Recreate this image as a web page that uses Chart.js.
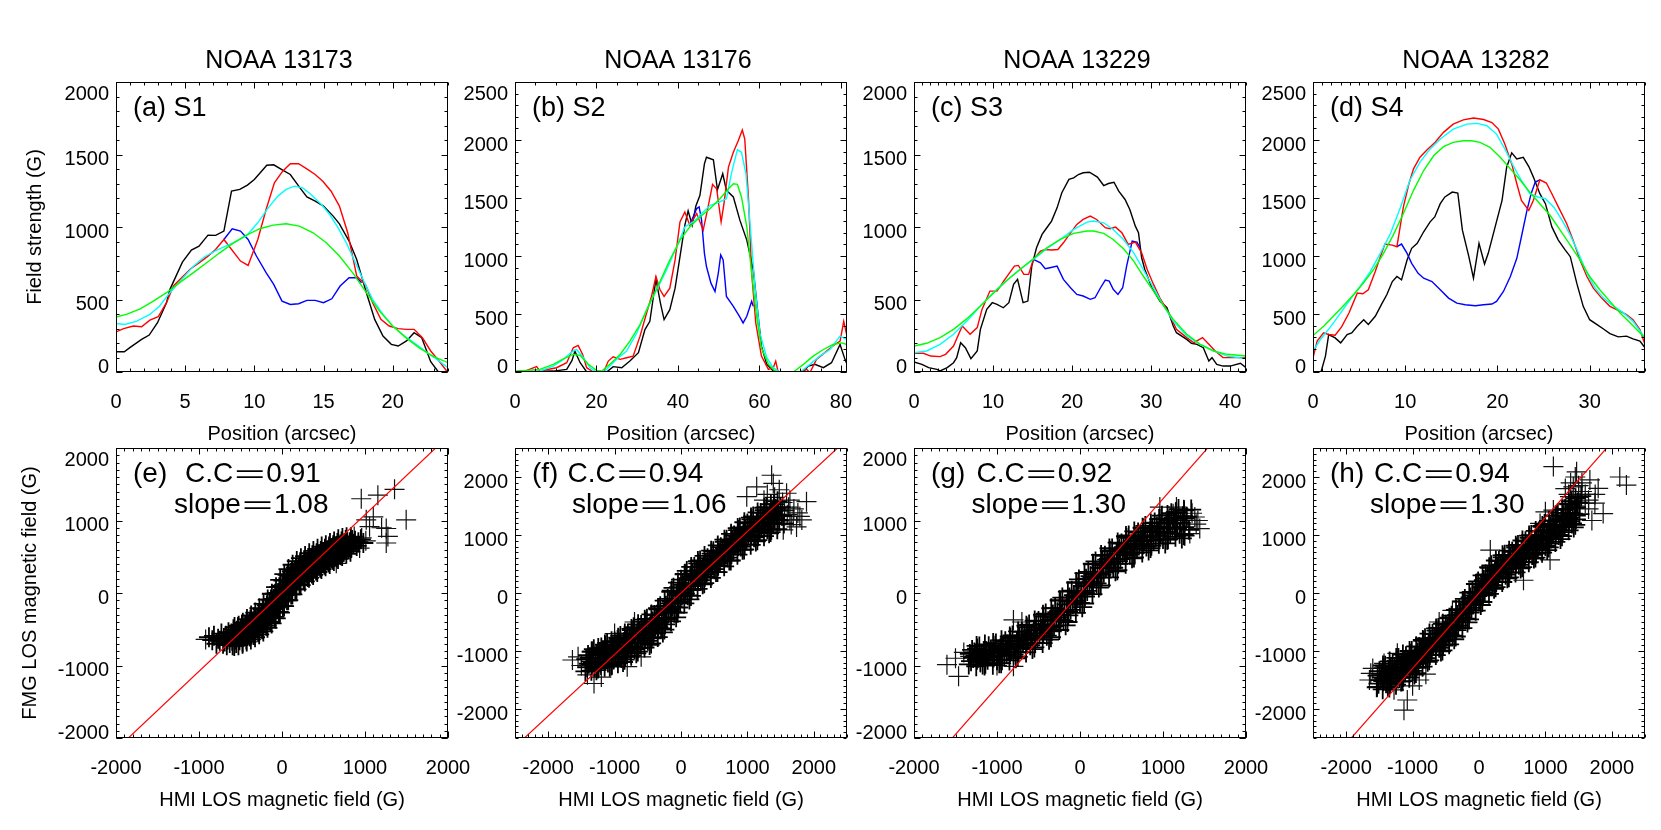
<!DOCTYPE html>
<html><head><meta charset="utf-8">
<script src="https://cdn.jsdelivr.net/npm/chart.js"></script>
<style>
html,body{margin:0;padding:0;background:#fff;}
body{width:1661px;height:830px;overflow:hidden;position:relative;}
canvas{position:absolute;left:0;top:0;}
</style></head><body>
<script>
// ---------- tick label lists ----------
const xTicksA = [0,5,10,15,20];
const xTicksB = [0,20,40,60,80];
const xTicksC = [0,10,20,30,40];
const xTicksD = [0,10,20,30];
const yTicks2000 = [0,500,1000,1500,2000];
const yTicks2500 = [0,500,1000,1500,2000,2500];
const sTicks2000 = [-2000,-1000,0,1000,2000];
const sTicks2500 = [-2000,-1000,0,1000,2000];

// ---------- field-strength profiles (x arcsec, y G pairs) ----------
const blackA = [0,140, 0.6,140, 1,168, 1.85,225, 2.4,255, 3,340, 3.65,478, 3.9,570, 4.8,758, 5.45,841, 6,868, 6.65,944, 7.2,942, 7.8,972, 8.35,1247, 8.95,1259, 9.5,1289, 10,1328, 10.9,1426, 11.4,1429, 12.05,1392, 12.6,1362, 13.3,1270, 13.8,1208, 14.4,1178, 15,1144, 15.7,1075, 16.15,1022, 16.85,903, 17.4,776, 18.1,547, 18.7,363, 19.3,248, 19.9,191, 20.4,179, 21,214, 21.55,271, 22.1,237, 22.75,71, 23.2,14, 23.6,-40];
const redA = [0,276, 0.55,299, 1.25,317, 1.85,312, 2.45,358, 3.05,381, 3.65,478, 4.15,593, 5.4,712, 6,753, 6.65,799, 7.2,845, 7.8,914, 9,765, 9.55,735, 10.25,914, 10.85,1121, 11.45,1305, 12.05,1385, 12.6,1436, 13.2,1436, 13.85,1397, 14.4,1362, 14.95,1316, 15.55,1247, 16.15,1144, 16.75,960, 17.4,662, 18.05,600, 18.55,478, 19.15,363, 19.75,317, 20.4,299, 21,294, 21.55,294, 22.15,237, 22.75,145, 23.35,76, 24,-5];
const blueA = [7.8,914, 8.4,988, 9,972, 9.55,914, 10.15,800, 10.85,685, 11.4,604, 12,489, 12.6,466, 13.2,471, 13.8,494, 14.4,494, 15,478, 15.6,505, 16.2,593, 16.85,650, 17.4,650, 17.75,616];
const cyanA = [0,335, 0.65,328, 1.5,351, 2.45,397, 3.15,455, 3.9,547, 4.75,639, 5.6,730, 6.4,795, 7.4,845, 8.45,891, 9.4,937, 10.25,1029, 11,1132, 11.7,1213, 12.3,1259, 12.9,1282, 13.5,1270, 14.1,1224, 14.85,1155, 15.45,1086, 16.05,995, 16.65,891, 17.25,765, 17.85,639, 18.55,501, 19.3,397, 20,317, 20.85,248, 21.7,191, 22.5,133, 23.25,83, 24,30];
const greenA = [0,379, 0.75,397, 1.75,436, 2.7,489, 3.65,547, 4.6,616, 5.6,685, 6.55,753, 7.5,822, 8.45,887, 9.4,942, 10.4,988, 11.35,1013, 12.3,1022, 13.25,1006, 14.25,960, 15.2,891, 16.15,800, 17.1,685, 18.1,547, 19.05,420, 20,317, 20.95,237, 21.9,168, 22.9,110, 24,64];

const blackB = [0,0, 9.4,8, 12.7,23, 14,100, 14.7,180, 16,80, 17.6,0, 22.5,0, 24.1,46, 26.2,37, 28.2,94, 30.3,166, 31.9,366, 33.1,437, 34.6,800, 35.7,594, 36.6,451, 38,537, 39.3,723, 40.5,994, 41.7,1266, 42.5,1389, 43.5,1266, 44.4,1431, 45.4,1523, 46.5,1794, 47,1851, 48.7,1829, 49.7,1571, 51,1709, 51.9,1566, 53.6,1509, 55.2,1309, 56.9,1137, 58.5,880, 59.7,480, 60.5,223, 61.8,66, 63.4,9, 64.6,0, 66.7,-30, 70,-30, 72,51, 73.6,66, 75.7,37, 77.7,80, 79.8,237, 81,109, 81.5,66];
const redB = [0,3, 2.9,14, 5.3,46, 6.1,9, 10.2,37, 12.7,80, 14.3,209, 15.5,229, 16.6,151, 17.6,37, 19.2,0, 21.7,-6, 22.9,94, 24.1,131, 25.8,109, 27.4,123, 29,137, 30.7,309, 32.3,509, 33.5,651, 34.6,823, 35.6,709, 36.6,651, 38,723, 39.3,966, 40.5,1294, 41.7,1380, 42.9,1266, 44.6,1366, 46.2,1223, 47.4,1423, 48.5,1617, 49.5,1580, 50.6,1294, 51.3,1451, 52.4,1766, 53.6,1894, 54.8,1994, 55.8,2086, 56.4,2009, 57.3,1509, 58.1,851, 59.1,423, 60.5,137, 62.2,23, 63.4,37, 64,94, 64.6,0, 66,-30, 70,0, 71.6,23, 72.4,-6, 74,109, 76.5,180, 78.5,237, 79.8,266, 80.7,437, 81.5,309];
const blueB = [42.9,1266, 44.6,1409, 45.2,1423, 45.8,1309, 46.5,1023, 47,909, 48.1,766, 49.1,694, 49.9,851, 50.5,1009, 51.1,966, 51.9,651, 53.6,566, 55.1,480, 56,423, 56.9,480, 58.1,609, 58.5,566];
const cyanB = [0,0, 6.1,9, 9.4,51, 11.9,109, 13.9,171, 15.1,194, 16.8,123, 18.4,37, 20,0, 21.7,-6, 23.3,51, 24.9,109, 27.4,180, 29.9,337, 32.3,537, 34.8,709, 37.2,880, 39.7,1080, 41.7,1251, 43.8,1294, 45.8,1366, 47.9,1437, 49.9,1460, 51.9,1494, 53.2,1723, 54.6,1917, 55.6,1894, 56.7,1709, 57.7,1280, 58.9,737, 60.1,337, 61.8,123, 63.4,37, 65,0, 67,-20, 70,0, 72.4,66, 74.8,137, 77.3,194, 79.8,309, 81.5,280];
const greenB = [0,6, 6.1,23, 9.4,66, 11.9,114, 14.3,151, 16,143, 18,66, 20,14, 21.3,9, 23.3,66, 25.8,151, 28.2,266, 30.7,409, 33.1,594, 35.6,780, 38,966, 40.5,1137, 42.9,1251, 45.4,1337, 47.9,1409, 50.3,1494, 52.4,1580, 53.6,1623, 54.6,1617, 55.6,1509, 56.9,1251, 58.1,851, 59.3,480, 60.5,209, 62.2,66, 63.8,9, 65.4,-6, 68.3,0, 70.8,66, 73.2,137, 75.7,194, 78.1,237, 80.2,251, 81.5,237];

const blackC = [0,69, 1,53, 1.85,30, 2.9,18, 3.3,7, 4.2,30, 5,64, 5.4,99, 5.9,202, 6.5,168, 7.2,92, 8,145, 8.4,294, 9.2,432, 9.9,478, 10.5,466, 11.3,443, 12,478, 12.6,604, 13.1,639, 13.8,478, 14.4,489, 14.9,730, 15.5,857, 16.2,949, 16.8,995, 17.4,1041, 18.1,1132, 18.7,1236, 19.6,1328, 20.2,1339, 20.8,1362, 21.4,1374, 22.2,1378, 23.2,1344, 24,1286, 24.6,1300, 25.3,1309, 25.9,1247, 26.7,1190, 27.3,1121, 28,1006, 28.4,960, 28.8,788, 29.2,707, 30.1,581, 31.1,489, 32,443, 32.8,317, 33.2,271, 34.5,225, 35.1,198, 35.8,191, 36.6,168, 37.3,76, 37.7,99, 38.3,53, 39.1,41, 40,41, 41.3,60, 42,30];
const redC = [0,129, 1.2,129, 2.1,110, 3.3,106, 4,122, 5,179, 6.1,317, 7.1,260, 8,306, 8.6,432, 9.6,558, 10.5,558, 11.5,639, 12.7,730, 13.2,735, 13.9,673, 14.5,673, 15.1,776, 16,834, 16.6,845, 17.4,841, 18.2,845, 18.9,891, 19.8,960, 20.6,1018, 21.4,1052, 22.3,1075, 23.1,1052, 24.2,995, 24.8,988, 25.5,999, 26.3,960, 27.1,880, 28,896, 28.8,822, 29.5,707, 30.3,604, 31.1,512, 32.2,409, 33.2,294, 34.5,237, 35.4,202, 36.5,237, 37.3,191, 38.1,145, 39.1,99, 40.4,99, 42,99];
const blueC = [15.1,776, 16,753, 16.6,712, 17.2,719, 18.1,730, 18.9,639, 19.8,581, 20.6,535, 21.4,524, 22.3,501, 22.9,512, 23.6,581, 24.2,634, 24.7,627, 25.2,570, 25.8,535, 26.4,581, 26.9,730, 27.6,903, 28.2,896, 28.6,857];
const cyanC = [0,133, 1.6,145, 3.3,191, 5,260, 6.7,351, 8.4,455, 10.1,551, 11.8,634, 13.4,707, 15.1,776, 16.8,850, 18.5,914, 20.2,983, 21.9,1034, 22.7,1041, 24,1029, 25.2,983, 26.5,914, 27.8,822, 29,707, 30.3,581, 31.6,455, 32.8,351, 34.5,248, 36.2,191, 37.9,145, 39.6,110, 42,92];
const greenC = [0,179, 1.6,198, 3.3,237, 5,294, 6.7,368, 8.4,455, 10.1,547, 11.8,634, 13.4,707, 15.1,781, 16.8,857, 18.5,914, 20.2,956, 21.9,972, 22.7,972, 24,956, 25.2,914, 26.5,850, 27.8,765, 29,662, 30.3,558, 31.6,455, 32.8,363, 34.5,260, 36.2,191, 37.9,145, 39.6,122, 42,110];

const blackD = [0.6,-40, 0.87,0, 1.35,137, 1.7,323, 2.4,294, 3,251, 3.7,323, 4.2,337, 4.8,394, 5.5,451, 6,409, 6.75,480, 7.5,594, 8,666, 8.6,780, 9.1,823, 9.6,794, 10.2,966, 10.7,1066, 11.3,1109, 12,1209, 12.7,1294, 13.2,1337, 13.8,1451, 14.3,1509, 15.1,1551, 15.7,1543, 16.2,1223, 16.9,994, 17.4,809, 18,1109, 18.6,931, 19,1023, 19.75,1251, 20.5,1480, 21,1766, 21.55,1889, 22.1,1837, 22.8,1851, 23.4,1771, 23.9,1680, 24.6,1537, 25.2,1451, 25.9,1251, 26.6,1137, 27.3,1057, 27.9,994, 28.6,766, 29.3,566, 30,451, 30.8,409, 31.5,371, 32.2,331, 33.1,303, 34,309, 34.7,286, 35.45,266, 36,209];
const redD = [0,123, 0.45,266, 1.15,337, 1.7,323, 2.4,317, 3.1,389, 3.9,509, 4.8,680, 5.4,674, 6,709, 6.75,866, 7.3,994, 7.8,1103, 8.6,1094, 9.1,1080, 9.8,1423, 10.4,1623, 10.9,1751, 11.6,1851, 12.35,1914, 13.25,1980, 14.15,2066, 15.2,2137, 16.3,2174, 17.4,2189, 18.5,2177, 19.4,2151, 20.1,2094, 20.8,1966, 21.55,1794, 22.1,1623, 22.6,1480, 23.4,1394, 23.9,1480, 24.6,1657, 25.3,1629, 25.9,1537, 26.6,1423, 27.5,1280, 28.2,1137, 28.95,966, 29.7,823, 30.4,723, 31.3,637, 32.2,566, 33.1,531, 34,494, 34.7,451, 35.45,366, 36,237];
const blueD = [9.1,1080, 9.6,1103, 10.2,1023, 10.7,937, 11.4,851, 12,809, 12.9,780, 13.8,709, 14.7,637, 15.6,594, 16.5,580, 17.6,571, 18.5,580, 19.4,586, 19.9,609, 20.65,694, 21.4,823, 22.1,980, 22.6,1166, 23.2,1394, 23.65,1537, 24.1,1637, 24.6,1657];
const cyanD = [0,180, 0.8,280, 1.9,389, 3,509, 4,623, 5.1,737, 6.2,866, 7.3,1023, 8.4,1194, 9.5,1423, 10.5,1651, 11.6,1809, 12.7,1923, 13.8,2009, 15.2,2094, 16.7,2137, 17.8,2143, 18.85,2123, 19.9,2051, 20.8,1923, 21.7,1780, 22.6,1651, 23.5,1537, 24.4,1509, 25.2,1494, 26.1,1423, 27,1309, 27.9,1180, 28.8,1023, 29.7,851, 30.6,723, 31.5,637, 32.6,566, 33.6,514, 34.7,437, 36,294];
const greenD = [0,314, 1.15,394, 2.2,480, 3.3,571, 4.4,666, 5.5,771, 6.6,886, 7.65,1023, 8.7,1180, 9.8,1366, 10.9,1566, 12,1737, 13.1,1866, 14.15,1943, 15.2,1980, 16.3,1994, 17.2,1994, 18.1,1980, 19.2,1937, 20.3,1851, 21.4,1751, 22.5,1651, 23.5,1551, 24.6,1451, 25.7,1351, 26.8,1223, 27.9,1094, 28.95,966, 30,823, 31.1,709, 32.2,609, 33.3,509, 34.4,423, 36,294];

// ---------- HMI (x) vs FMG (y) LOS field pairs, G ----------
// dense core of each cloud
const coreE = [-880,-610, -840,-650, -820,-590, -790,-700, -770,-630, -750,-660, -730,-560, -710,-700, -700,-620,
-690,-670, -675,-590, -665,-720, -655,-640, -645,-540,
-630,-690, -618,-610, -610,-560, -600,-660, -595,-720, -585,-500,
-570,-640, -560,-580, -552,-690, -545,-520, -538,-610, -530,-470,
-512,-650, -505,-560, -497,-500, -490,-610, -483,-440, -475,-680,
-460,-520, -452,-600, -445,-460, -438,-560, -430,-640, -425,-410,
-410,-480, -402,-540, -395,-420, -388,-600, -380,-370, -375,-500,
-360,-450, -352,-520, -345,-390, -338,-580, -330,-330, -325,-480,
-310,-400, -302,-470, -295,-340, -288,-540, -280,-280, -275,-430,
-262,-350, -255,-420, -248,-290, -240,-500, -233,-230, -226,-380,
-212,-300, -205,-380, -198,-230, -190,-450, -183,-170, -176,-330,
-162,-240, -155,-320, -148,-160, -140,-400, -133,-90, -126,-270,
-112,-170, -105,-260, -98,-80, -90,-330, -83,-10, -76,-200,
-62,-90, -55,-180, -48,0, -40,-260, -33,80, -26,-120,
-12,-10, -5,-100, 2,100, 10,-180, 17,170, 24,30,
38,70, 45,-30, 52,180, 60,-100, 67,250, 74,110,
88,150, 95,50, 102,240, 110,-20, 117,300, 124,190,
138,220, 145,120, 152,300, 160,50, 167,350, 174,250,
188,280, 195,180, 202,350, 210,120, 217,400, 224,300,
238,320, 245,230, 252,390, 260,180, 267,440, 274,340,
288,360, 295,270, 302,430, 310,220, 317,480, 324,380,
338,400, 345,310, 352,470, 360,270, 367,520, 374,420,
388,440, 395,350, 402,500, 410,310, 417,550, 424,460,
438,470, 445,390, 452,530, 460,350, 467,580, 474,490,
488,500, 495,420, 502,560, 510,390, 517,610, 524,520,
538,530, 545,450, 552,590, 560,420, 567,640, 574,550,
588,560, 595,480, 602,620, 610,460, 617,660, 624,580,
638,590, 645,510, 652,650, 660,490, 667,690, 674,610,
688,620, 695,540, 702,670, 710,520, 717,710, 724,640,
738,640, 745,570, 752,690, 760,600, 767,730, 774,660,
790,660, 805,600, 815,700, 830,640, 845,730,
860,680, 880,720, 900,650, 920,700, 950,740, 980,690,
-575,-730, -572,-470, -568,-640, -565,-560, -525,-720, -522,-450, -518,-620, -515,-540,
-475,-700, -472,-410, -468,-600, -465,-500, -425,-670, -422,-360, -418,-560, -415,-460,
-375,-640, -372,-310, -368,-520, -365,-420, -325,-610, -322,-270, -318,-490, -315,-380,
-275,-570, -272,-210, -268,-440, -265,-330, -225,-530, -222,-150, -218,-390, -215,-280,
-175,-480, -172,-90, -168,-330, -165,-220, -125,-420, -122,-10, -118,-260, -115,-150,
-75,-350, -72,80, -68,-190, -65,-70, -25,-270, -22,180, -18,-100, -15,20,
25,-180, 28,260, 32,-10, 35,100, 75,-100, 78,330, 82,60, 85,170,
125,-20, 128,390, 132,130, 135,240, 175,50, 178,440, 182,190, 185,300,
225,110, 228,480, 232,240, 235,350, 275,160, 278,510, 282,290, 285,390,
325,210, 328,550, 332,330, 335,430, 375,250, 378,580, 382,370, 385,470,
425,290, 428,610, 432,400, 435,500, 475,330, 478,640, 482,440, 485,530,
525,370, 528,660, 532,470, 535,560, 575,400, 578,690, 582,500, 585,590,
625,440, 628,710, 632,530, 635,620, 675,470, 678,740, 682,560, 685,650,
725,510, 728,760, 732,590, 735,670, 775,540, 778,770, 782,610, 785,700,
825,570, 830,770, 835,620, 840,700];
// isolated crosses
const outE = [955,1300, 1155,1350, 1356,1430, 1015,1010, 1496,1010, 1055,915, 1256,890, 1276,780, 1256,690, 814,690, 935,620, 654,410, -389,-550, 1200,900, 1100,1050, 870,780, 960,760, 1010,720, -920,-640];

const coreF = [-1440,-1350, -1427,-1140, -1413,-1280, -1400,-1070, -1387,-1220, -1373,-1120, -1360,-1180,
-1340,-1010, -1327,-1200, -1313,-970, -1300,-1280, -1287,-1140, -1273,-1330, -1260,-1060,
-1240,-1280, -1227,-1030, -1213,-1200, -1200,-940, -1187,-1130, -1173,-1000, -1160,-1070,
-1140,-910, -1127,-1110, -1113,-860, -1100,-1200, -1087,-1050, -1073,-1270, -1060,-960,
-1040,-1235, -1027,-945, -1013,-1145, -1000,-835, -987,-1055, -973,-905, -960,-995,
-940,-790, -927,-1020, -913,-740, -900,-1120, -887,-950, -873,-1190, -860,-850,
-840,-1100, -827,-810, -813,-1010, -800,-700, -787,-920, -773,-770, -760,-860,
-740,-640, -727,-870, -713,-590, -700,-970, -687,-800, -673,-1040, -660,-700,
-640,-950, -627,-660, -613,-860, -600,-550, -587,-770, -573,-620, -560,-710,
-540,-495, -527,-725, -513,-445, -500,-825, -487,-655, -473,-895, -460,-555,
-440,-780, -427,-490, -413,-690, -400,-380, -387,-600, -373,-450, -360,-540,
-340,-280, -327,-510, -313,-230, -300,-610, -287,-440, -273,-680, -260,-340,
-240,-540, -227,-220, -213,-440, -200,-100, -187,-340, -173,-180, -160,-280,
-140,40, -127,-230, -113,90, -100,-340, -87,-150, -73,-420, -60,-30,
-40,-250, -27,100, -13,-140, 0,230, 13,-40, 27,140, 40,40,
60,330, 73,70, 87,380, 100,-40, 113,150, 127,-110, 140,260,
160,50, 173,340, 187,140, 200,450, 213,230, 227,380, 240,290,
260,510, 273,310, 287,560, 300,220, 313,370, 327,150, 340,460,
360,280, 373,510, 387,350, 400,600, 413,430, 427,550, 440,470,
460,680, 473,490, 487,720, 500,410, 513,550, 527,360, 540,630,
560,470, 573,700, 587,540, 600,790, 613,620, 627,740, 640,660,
660,880, 673,690, 687,920, 700,610, 713,750, 727,560, 740,830,
760,670, 773,900, 787,740, 800,990, 813,820, 827,940, 840,860,
860,1085, 873,890, 887,1130, 900,800, 913,950, 927,745, 940,1035,
960,840, 973,1100, 987,920, 1000,1200, 1013,1000, 1027,1140, 1040,1060,
1060,1270, 1073,1050, 1087,1320, 1100,960, 1113,1120, 1127,890, 1140,1215,
1160,980, 1173,1270, 1187,1070, 1200,1380, 1213,1160, 1227,1310, 1240,1220,
1260,1430, 1273,1200, 1287,1480, 1300,1100, 1313,1270, 1327,1030, 1340,1370,
1360,1090, 1373,1410, 1387,1190, 1400,1530, 1413,1290, 1427,1450, 1440,1350,
1480,1250, 1500,1480, 1520,1330, 1550,1200,
-1350,-1340, -1346,-1010, -1342,-1230, -1338,-1120, -1250,-1300, -1246,-950, -1242,-1190, -1238,-1060,
-1150,-1270, -1146,-890, -1142,-1150, -1138,-1010, -1050,-1250, -1046,-830, -1042,-1110, -1038,-970,
-950,-1210, -946,-770, -942,-1060, -938,-920, -850,-1150, -846,-700, -842,-1000, -838,-850,
-750,-1080, -746,-620, -742,-930, -738,-770, -650,-1010, -646,-540, -642,-850, -638,-700,
-550,-940, -546,-460, -542,-780, -538,-620, -450,-870, -446,-370, -442,-700, -438,-540,
-350,-760, -346,-260, -342,-590, -338,-430, -250,-630, -246,-130, -242,-460, -238,-300,
-150,-490, -146,20, -142,-320, -138,-150, -50,-340, -46,180, -42,-160, -38,0,
50,-180, 54,320, 58,-10, 62,150, 150,-50, 154,450, 158,120, 162,280,
250,70, 254,550, 258,230, 262,390, 350,170, 354,640, 358,320, 362,490,
450,260, 454,730, 458,410, 462,580, 550,360, 554,820, 558,510, 562,670,
650,460, 654,920, 658,610, 662,770, 750,560, 754,1020, 758,710, 762,870,
850,660, 854,1120, 858,810, 862,970, 950,750, 954,1220, 958,900, 962,1070,
1050,830, 1054,1300, 1058,990, 1062,1150, 1150,910, 1154,1390, 1158,1070, 1162,1230,
1250,980, 1254,1470, 1258,1140, 1262,1310, 1350,1050, 1354,1530, 1358,1210, 1362,1370,
1450,1100, 1454,1580, 1458,1260, 1462,1420];
const outF = [1640,1260, 1790,1320, 1890,1575, 1640,1600, 1365,2030, 1390,1890, 1140,1830, 990,1660, 1590,1720, 1690,1320, 1740,1140, 1440,1430, 1540,1090, 1700,1450, 1600,1350, 1820,1260, 1250,1600, 1480,1780, 1300,1700,
1560,1420, 1660,1180, 1760,1380, 1620,1480, 1530,1560, 1410,1650,
-1635,-1155, -1410,-1410, -1310,-1560, -1210,-1240, -1110,-1040, -810,-1270, -760,-1040, -960,-810, -1500,-1250, -1550,-1100, -1200,-1450, -600,-1100, -700,-500, -1000,-700];

const coreG = [-1340,-985, -1327,-840, -1313,-940, -1300,-785, -1287,-895, -1273,-820, -1260,-865,
-1240,-766, -1227,-893, -1213,-739, -1200,-948, -1187,-854, -1173,-987, -1160,-799,
-1140,-976, -1127,-802, -1113,-922, -1100,-736, -1087,-868, -1073,-778, -1060,-832,
-1040,-728, -1027,-866, -1013,-698, -1000,-926, -987,-824, -973,-968, -960,-764,
-940,-927, -927,-738, -913,-868, -900,-666, -887,-810, -873,-712, -860,-770,
-840,-621, -827,-782, -813,-586, -800,-852, -787,-733, -773,-901, -760,-663,
-740,-817, -727,-614, -713,-754, -700,-537, -687,-691, -673,-586, -660,-649,
-640,-472, -627,-645, -613,-435, -600,-720, -587,-592, -573,-773, -560,-517,
-540,-688, -527,-470, -513,-620, -500,-387, -487,-553, -473,-440, -460,-507,
-440,-324, -427,-508, -413,-284, -400,-588, -387,-452, -373,-644, -360,-372,
-340,-528, -327,-296, -313,-456, -300,-208, -287,-384, -273,-264, -260,-336,
-240,-105, -227,-301, -213,-63, -200,-386, -187,-241, -173,-446, -160,-156,
-140,-308, -127,-62, -113,-232, -100,32, -87,-156, -73,-28, -60,-104,
-40,145, -27,-51, -13,187, 0,-136, 13,9, 27,-196, 40,94,
60,-48, 73,198, 87,28, 100,292, 113,104, 127,232, 140,156,
160,396, 173,212, 187,436, 200,132, 213,268, 227,76, 240,348,
260,212, 273,430, 287,280, 300,513, 313,347, 327,460, 340,393,
360,579, 373,418, 387,614, 400,348, 413,467, 427,299, 440,537,
460,403, 473,606, 487,466, 500,683, 513,529, 527,634, 540,571,
560,759, 573,598, 587,794, 600,528, 613,647, 627,479, 640,717,
660,553, 673,756, 687,616, 700,833, 713,679, 727,784, 740,721,
760,888, 773,715, 787,925, 800,640, 813,768, 827,587, 840,843,
860,652, 873,884, 887,724, 900,972, 913,796, 927,916, 940,844,
960,1025, 973,829, 987,1067, 1000,744, 1013,889, 1027,684, 1040,974,
1060,741, 1073,1002, 1087,822, 1100,1101, 1113,903, 1127,1038, 1140,957,
1160,1113, 1173,906, 1187,1158, 1200,816, 1213,969, 1227,753, 1240,1059,
1260,791, 1287,1052, 1313,872, 1340,1151,
-1250,-1010, -1246,-730, -1242,-920, -1238,-820, -1150,-1000, -1146,-710, -1142,-900, -1138,-800,
-1050,-990, -1046,-690, -1042,-890, -1038,-790, -950,-970, -946,-650, -942,-860, -938,-760,
-850,-930, -846,-600, -842,-820, -838,-710, -750,-880, -746,-530, -742,-760, -738,-650,
-650,-820, -646,-450, -642,-700, -638,-570, -550,-750, -546,-380, -542,-630, -538,-500,
-450,-690, -446,-300, -442,-560, -438,-430, -350,-610, -346,-210, -342,-480, -338,-340,
-250,-510, -246,-100, -242,-370, -238,-240, -150,-400, -146,20, -142,-260, -138,-120,
-50,-275, -46,145, -42,-130, -38,0, 50,-145, 54,275, 58,0, 62,130,
150,-15, 154,405, 158,130, 162,260, 250,105, 254,525, 258,250, 262,380,
350,215, 354,615, 358,350, 362,480, 450,315, 454,695, 458,440, 462,570,
550,405, 554,785, 558,530, 562,660, 650,490, 654,850, 658,610, 662,730,
750,560, 754,900, 758,670, 762,790, 850,620, 854,960, 858,730, 862,850,
950,680, 954,1020, 958,790, 962,910, 1050,735, 1054,1075, 1058,845, 1062,965,
1150,775, 1154,1115, 1158,885, 1162,1005, 1250,800, 1254,1140, 1258,910, 1262,1030];
const outG = [962,1185, 1122,1094, 1283,1002, 1383,1048, 1443,888, 1323,819, 1082,956, 842,865, 1162,1185, 1400,950, 1350,1100, 1250,1150, 1420,1000,
-1603,-989, -1463,-1149, -1323,-874, -1122,-828, -962,-920, -802,-1011, -802,-371, -882,-828, -1500,-900, -1400,-820, -1200,-960, -1000,-1000, -700,-400];

const coreH = [-1540,-1627, -1527,-1424, -1513,-1564, -1500,-1347, -1487,-1501, -1473,-1396, -1460,-1459,
-1440,-1294, -1427,-1478, -1413,-1254, -1400,-1558, -1387,-1422, -1373,-1614, -1360,-1342,
-1340,-1558, -1327,-1312, -1313,-1482, -1300,-1218, -1287,-1406, -1273,-1278, -1260,-1354,
-1240,-1167, -1227,-1374, -1213,-1122, -1200,-1464, -1187,-1311, -1173,-1527, -1160,-1221,
-1140,-1449, -1127,-1188, -1113,-1368, -1100,-1089, -1087,-1287, -1073,-1152, -1060,-1233,
-1040,-1047, -1027,-1254, -1013,-1002, -1000,-1344, -987,-1191, -973,-1407, -960,-1101,
-940,-1289, -927,-1028, -913,-1208, -900,-929, -887,-1127, -873,-992, -860,-1073,
-840,-827, -827,-1034, -813,-782, -800,-1124, -787,-971, -773,-1187, -760,-881,
-740,-1069, -727,-808, -713,-988, -700,-709, -687,-907, -673,-772, -660,-853,
-640,-647, -627,-854, -613,-602, -600,-944, -587,-791, -573,-1007, -560,-701,
-540,-909, -527,-648, -513,-828, -500,-549, -487,-747, -473,-612, -460,-693,
-440,-437, -427,-644, -413,-392, -400,-734, -387,-581, -373,-797, -360,-491,
-340,-639, -327,-378, -313,-558, -300,-279, -287,-477, -273,-342, -260,-423,
-240,-147, -227,-354, -213,-102, -200,-444, -187,-291, -173,-507, -160,-201,
-140,-339, -127,-78, -113,-258, -100,21, -87,-177, -73,-42, -60,-123,
-40,153, -27,-54, -13,198, 0,-144, 13,9, 27,-207, 40,99,
60,-39, 73,222, 87,42, 100,321, 113,123, 127,258, 140,177,
160,433, 173,226, 187,478, 200,136, 213,289, 227,73, 240,379,
260,191, 273,452, 287,272, 300,551, 313,353, 327,488, 340,407,
360,613, 373,406, 387,658, 400,316, 413,469, 427,253, 440,559,
460,351, 473,612, 487,432, 500,711, 513,513, 527,648, 540,567,
560,783, 573,576, 587,828, 600,486, 613,639, 627,423, 640,729,
660,531, 673,792, 687,612, 700,891, 713,693, 727,828, 740,747,
760,953, 773,746, 787,998, 800,656, 813,809, 827,593, 840,899,
860,680, 873,956, 887,766, 900,1061, 913,851, 927,994, 940,909,
960,1140, 973,910, 987,1190, 1000,810, 1013,980, 1027,740, 1040,1080,
1060,850, 1073,1140, 1087,940, 1100,1250, 1113,1030, 1127,1180, 1140,1090,
1160,1330, 1173,1100, 1187,1380, 1200,1000, 1213,1170, 1227,930, 1240,1270,
1260,1050, 1273,1340, 1287,1140, 1300,1450, 1313,1230, 1327,1380, 1340,1290,
1360,1530, 1373,1300, 1387,1580, 1400,1200, 1413,1370, 1427,1130, 1440,1470,
1460,1270, 1487,1560, 1513,1360, 1540,1670,
-1450,-1660, -1446,-1250, -1442,-1520, -1438,-1390, -1350,-1630, -1346,-1180, -1342,-1470, -1338,-1340,
-1250,-1580, -1246,-1120, -1242,-1420, -1238,-1280, -1150,-1520, -1146,-1060, -1142,-1360, -1138,-1220,
-1050,-1460, -1046,-1000, -1042,-1300, -1038,-1160, -950,-1380, -946,-920, -942,-1220, -938,-1080,
-850,-1270, -846,-810, -842,-1110, -838,-970, -750,-1160, -746,-700, -742,-1000, -738,-860,
-650,-1070, -646,-610, -642,-910, -638,-770, -550,-990, -546,-530, -542,-830, -538,-690,
-450,-885, -446,-425, -442,-725, -438,-585, -350,-750, -346,-290, -342,-590, -338,-450,
-250,-605, -246,-145, -242,-445, -238,-305, -150,-455, -146,5, -142,-295, -138,-155,
-50,-305, -46,155, -42,-145, -38,-5, 50,-155, 54,305, 58,5, 62,145,
150,-15, 154,445, 158,145, 162,285, 250,100, 254,560, 258,260, 262,400,
350,190, 354,650, 358,350, 362,490, 450,270, 454,730, 458,430, 462,570,
550,355, 554,815, 558,515, 562,655, 650,445, 654,905, 658,605, 662,745,
750,530, 754,990, 758,690, 762,830, 850,610, 854,1070, 858,770, 862,910,
950,695, 954,1155, 958,855, 962,995, 1050,785, 1054,1245, 1058,945, 1062,1085,
1150,880, 1154,1340, 1158,1040, 1162,1180, 1250,980, 1254,1440, 1258,1140, 1262,1280,
1350,1080, 1354,1540, 1358,1240, 1362,1380, 1450,1175, 1454,1635, 1458,1335, 1462,1475];
const outH = [1120,2180, 1470,2090, 1670,1950, 2120,2000, 2220,1860, 1795,1805, 1420,1830, 1370,1660, 1520,1550, 1870,1370, 1745,1550, 1220,1090, 1120,1430, 920,1200, 670,220, 1070,570, 170,740, 1600,1700, 1550,1900, 1650,1450, 1300,1800, 1000,1400, 1700,1250, 1450,2000,
1350,1700, 1400,1600, 1500,1650, 1450,1500, 1550,1750, 1600,1550, 1380,1900, 1500,1850, 1650,1600, 1750,1700,
-1630,-1385, -1530,-1615, -1380,-1445, -1280,-1670, -1130,-2020, -1080,-1845, -1430,-1215, -1230,-1040, -1180,-1270, -1650,-1500, -1600,-1300, -1000,-1600, -900,-1500, -800,-1400, -600,-500, -400,-300];

// fitted lines (end points)
const fitE = [-2000,-2160, 2000,2160];
const fitF = [-2500,-2650, 2500,2650];
const fitG = [-2000,-2600, 2000,2600];
const fitH = [-2500,-3250, 2500,3250];

// ---------- rendering ----------
const FONT = '"Liberation Sans", Arial, Helvetica, sans-serif';
Chart.defaults.font.family = FONT;
Chart.defaults.color = '#000';
const W = 1661, H = 830;
const colL = [116, 515, 914, 1313];
const rowT = [82, 448];
const PW = 332, PH = 290;
const LINE_COLORS = ['#00ff00', '#00ffff', '#ff0000', '#0000ff', '#000000'];

const pts = a => { const o = []; for (let i = 0; i < a.length; i += 2) o.push({x: a[i], y: a[i + 1]}); return o; };

function drawEq(ctx, str, x, y) {
  const parts = str.split('=');
  ctx.fillText(parts[0], x, y);
  const w = ctx.measureText(parts[0]).width;
  const eq = ctx.measureText('=').width;
  ctx.save(); ctx.translate(x + w + 1, y); ctx.scale(1.9, 0.85); ctx.fillText('=', 0, 0); ctx.restore();
  ctx.fillText(parts[1], x + w + 2 + eq * 1.9, y);
}

const framePlugin = {
  id: 'frameTicks',
  afterDatasetsDraw(chart) {
    const p = chart.canvas.panel; if (!p) return;
    const {ctx, chartArea: a, scales: {x, y}} = chart;
    ctx.save();
    ctx.strokeStyle = '#000'; ctx.lineWidth = 1;
    const l = Math.round(a.left) + 0.5, r = Math.round(a.right) - 0.5, t = Math.round(a.top) + 0.5, b = Math.round(a.bottom) - 0.5;
    ctx.strokeRect(l, t, r - l, b - t);
    ctx.beginPath();
    const marks = (min, max, step, len, fn) => { for (let k = Math.ceil(min / step - 1e-9); k * step <= max + 1e-9; k++) fn(k * step, len); };
    const xt = (v, len) => { const q = Math.round(x.getPixelForValue(v)) + 0.5; ctx.moveTo(q, b); ctx.lineTo(q, b - len); ctx.moveTo(q, t); ctx.lineTo(q, t + len); };
    const yt = (v, len) => { const q = Math.round(y.getPixelForValue(v)) + 0.5; ctx.moveTo(l, q); ctx.lineTo(l + len, q); ctx.moveTo(r, q); ctx.lineTo(r - len, q); };
    marks(x.min, x.max, p.xMin, 3, xt); marks(x.min, x.max, p.xMaj, 6, xt);
    marks(y.min, y.max, p.yMin, 3, yt); marks(y.min, y.max, p.yMaj, 6, yt);
    ctx.stroke();
    ctx.fillStyle = '#000'; ctx.font = '20px ' + FONT; ctx.textAlign = 'right'; ctx.textBaseline = 'alphabetic';
    p.yt.forEach(v => {
      const q = y.getPixelForValue(v);
      let off = 10.5; if (v === y.max) off = 18; else if (v === y.min) off = 0.5;
      ctx.fillText(String(v), a.left - 7, q + off);
    });
    ctx.restore();
  }
};

const decoPlugin = {
  id: 'deco',
  afterDraw(chart) {
    const p = chart.canvas.panel; if (!p) return;
    const {ctx, chartArea: a} = chart;
    ctx.save(); ctx.fillStyle = '#000'; ctx.textBaseline = 'alphabetic';
    const mid = (a.left + a.right) / 2;
    if (p.title) { ctx.font = '25px ' + FONT; ctx.textAlign = 'center'; ctx.fillText(p.title, mid - 3, a.top - 14); }
    ctx.textAlign = 'left';
    if (p.row === 0) { ctx.font = '27px ' + FONT; ctx.fillText(p.label, a.left + 17, a.top + 34); }
    else {
      ctx.font = '28px ' + FONT;
      ctx.fillText(p.label, a.left + 17, a.top + 34);
      drawEq(ctx, p.cc, a.left + p.ccDx, a.top + 34);
      drawEq(ctx, p.slope, a.left + p.slDx, a.top + 65);
    }
    ctx.font = '20px ' + FONT; ctx.textAlign = 'center';
    ctx.fillText(p.xTitle, mid, a.bottom + 68);
    if (p.yTitle) {
      ctx.save(); ctx.translate(a.left - p.yTx, (a.top + a.bottom) / 2); ctx.rotate(-Math.PI / 2);
      ctx.fillText(p.yTitle, 0, 0); ctx.restore();
    }
    ctx.restore();
  }
};
Chart.register(framePlugin, decoPlugin);

const PT = 'Position (arcsec)', HT = 'HMI LOS magnetic field (G)';
const panels = [
  {col:0,row:0,xr:[0,24],yr:[0,2000],xt:xTicksA,yt:yTicks2000,xMaj:5,xMin:1,yMaj:500,yMin:100,lines:[greenA,cyanA,redA,blueA,blackA],title:'NOAA 13173',label:'(a) S1',xTitle:PT,yTitle:'Field strength (G)',yTx:75},
  {col:1,row:0,xr:[0,81.5],yr:[0,2500],xt:xTicksB,yt:yTicks2500,xMaj:20,xMin:5,yMaj:500,yMin:100,lines:[greenB,cyanB,redB,blueB,blackB],title:'NOAA 13176',label:'(b) S2',xTitle:PT},
  {col:2,row:0,xr:[0,42],yr:[0,2000],xt:xTicksC,yt:yTicks2000,xMaj:10,xMin:1,yMaj:500,yMin:100,lines:[greenC,cyanC,redC,blueC,blackC],title:'NOAA 13229',label:'(c) S3',xTitle:PT},
  {col:3,row:0,xr:[0,36],yr:[0,2500],xt:xTicksD,yt:yTicks2500,xMaj:10,xMin:1,yMaj:500,yMin:100,lines:[greenD,cyanD,redD,blueD,blackD],title:'NOAA 13282',label:'(d) S4',xTitle:PT},
  {col:0,row:1,xr:[-2000,2000],yr:[-2000,2000],xt:sTicks2000,yt:sTicks2000,xMaj:1000,xMin:100,yMaj:1000,yMin:100,core:coreE,out:outE,fit:fitE,label:'(e)',cc:'C.C=0.91',slope:'slope=1.08',ccDx:69,slDx:58,xTitle:HT,yTitle:'FMG LOS magnetic field (G)',yTx:80.5},
  {col:1,row:1,xr:[-2500,2500],yr:[-2500,2500],xt:sTicks2500,yt:sTicks2500,xMaj:1000,xMin:100,yMaj:1000,yMin:100,core:coreF,out:outF,fit:fitF,label:'(f)',cc:'C.C=0.94',slope:'slope=1.06',ccDx:52.5,slDx:57,xTitle:HT},
  {col:2,row:1,xr:[-2000,2000],yr:[-2000,2000],xt:sTicks2000,yt:sTicks2000,xMaj:1000,xMin:100,yMaj:1000,yMin:100,core:coreG,out:outG,fit:fitG,label:'(g)',cc:'C.C=0.92',slope:'slope=1.30',ccDx:62.5,slDx:57.5,xTitle:HT},
  {col:3,row:1,xr:[-2500,2500],yr:[-2500,2500],xt:sTicks2500,yt:sTicks2500,xMaj:1000,xMin:100,yMaj:1000,yMin:100,core:coreH,out:outH,fit:fitH,label:'(h)',cc:'C.C=0.94',slope:'slope=1.30',ccDx:61,slDx:57,xTitle:HT}
];

panels.forEach(p => {
  const L = colL[p.col], T = rowT[p.row], R = L + PW, B = T + PH;
  const c = document.createElement('canvas');
  c.width = W; c.height = H; c.style.width = W + 'px'; c.style.height = H + 'px';
  c.panel = p;
  document.body.appendChild(c);
  let datasets;
  if (p.lines) {
    datasets = p.lines.map((arr, i) => ({data: pts(arr), showLine: true, borderColor: LINE_COLORS[i], borderWidth: 1.4, pointRadius: 0, tension: 0, fill: false, clip: 0}));
  } else {
    datasets = [
      {data: pts(p.fit), showLine: true, borderColor: '#ff0000', borderWidth: 1.2, pointRadius: 0, clip: 0},
      {data: pts(p.core), showLine: false, pointStyle: 'cross', pointRadius: 10, pointBorderWidth: 1.8, pointBorderColor: '#000', pointBackgroundColor: '#000', clip: 0},
      {data: pts(p.out), showLine: false, pointStyle: 'cross', pointRadius: 10, pointBorderWidth: 1.2, pointBorderColor: '#111', pointBackgroundColor: '#111', clip: 0}
    ];
  }
  new Chart(c, {
    type: 'scatter',
    data: {datasets},
    options: {
      responsive: false, animation: false, devicePixelRatio: 1, events: [],
      layout: {padding: {left: L - 80, right: W - R, top: T, bottom: H - B - 60}},
      plugins: {legend: {display: false}, tooltip: {enabled: false}},
      scales: {
        x: {type: 'linear', position: 'bottom', min: p.xr[0], max: p.xr[1],
            grid: {display: false, drawTicks: false}, border: {display: false},
            afterBuildTicks: s => { s.ticks = p.xt.map(v => ({value: v})); },
            afterFit: s => { s.height = 60; },
            ticks: {padding: 18.5, font: {size: 20, family: FONT}, color: '#000', maxRotation: 0, minRotation: 0, autoSkip: false, callback: v => String(v)}},
        y: {type: 'linear', position: 'left', min: p.yr[0], max: p.yr[1],
            grid: {display: false, drawTicks: false}, border: {display: false},
            ticks: {display: false},
            afterFit: s => { s.width = 80; }}
      }
    }
  });
});
</script>
</body></html>
